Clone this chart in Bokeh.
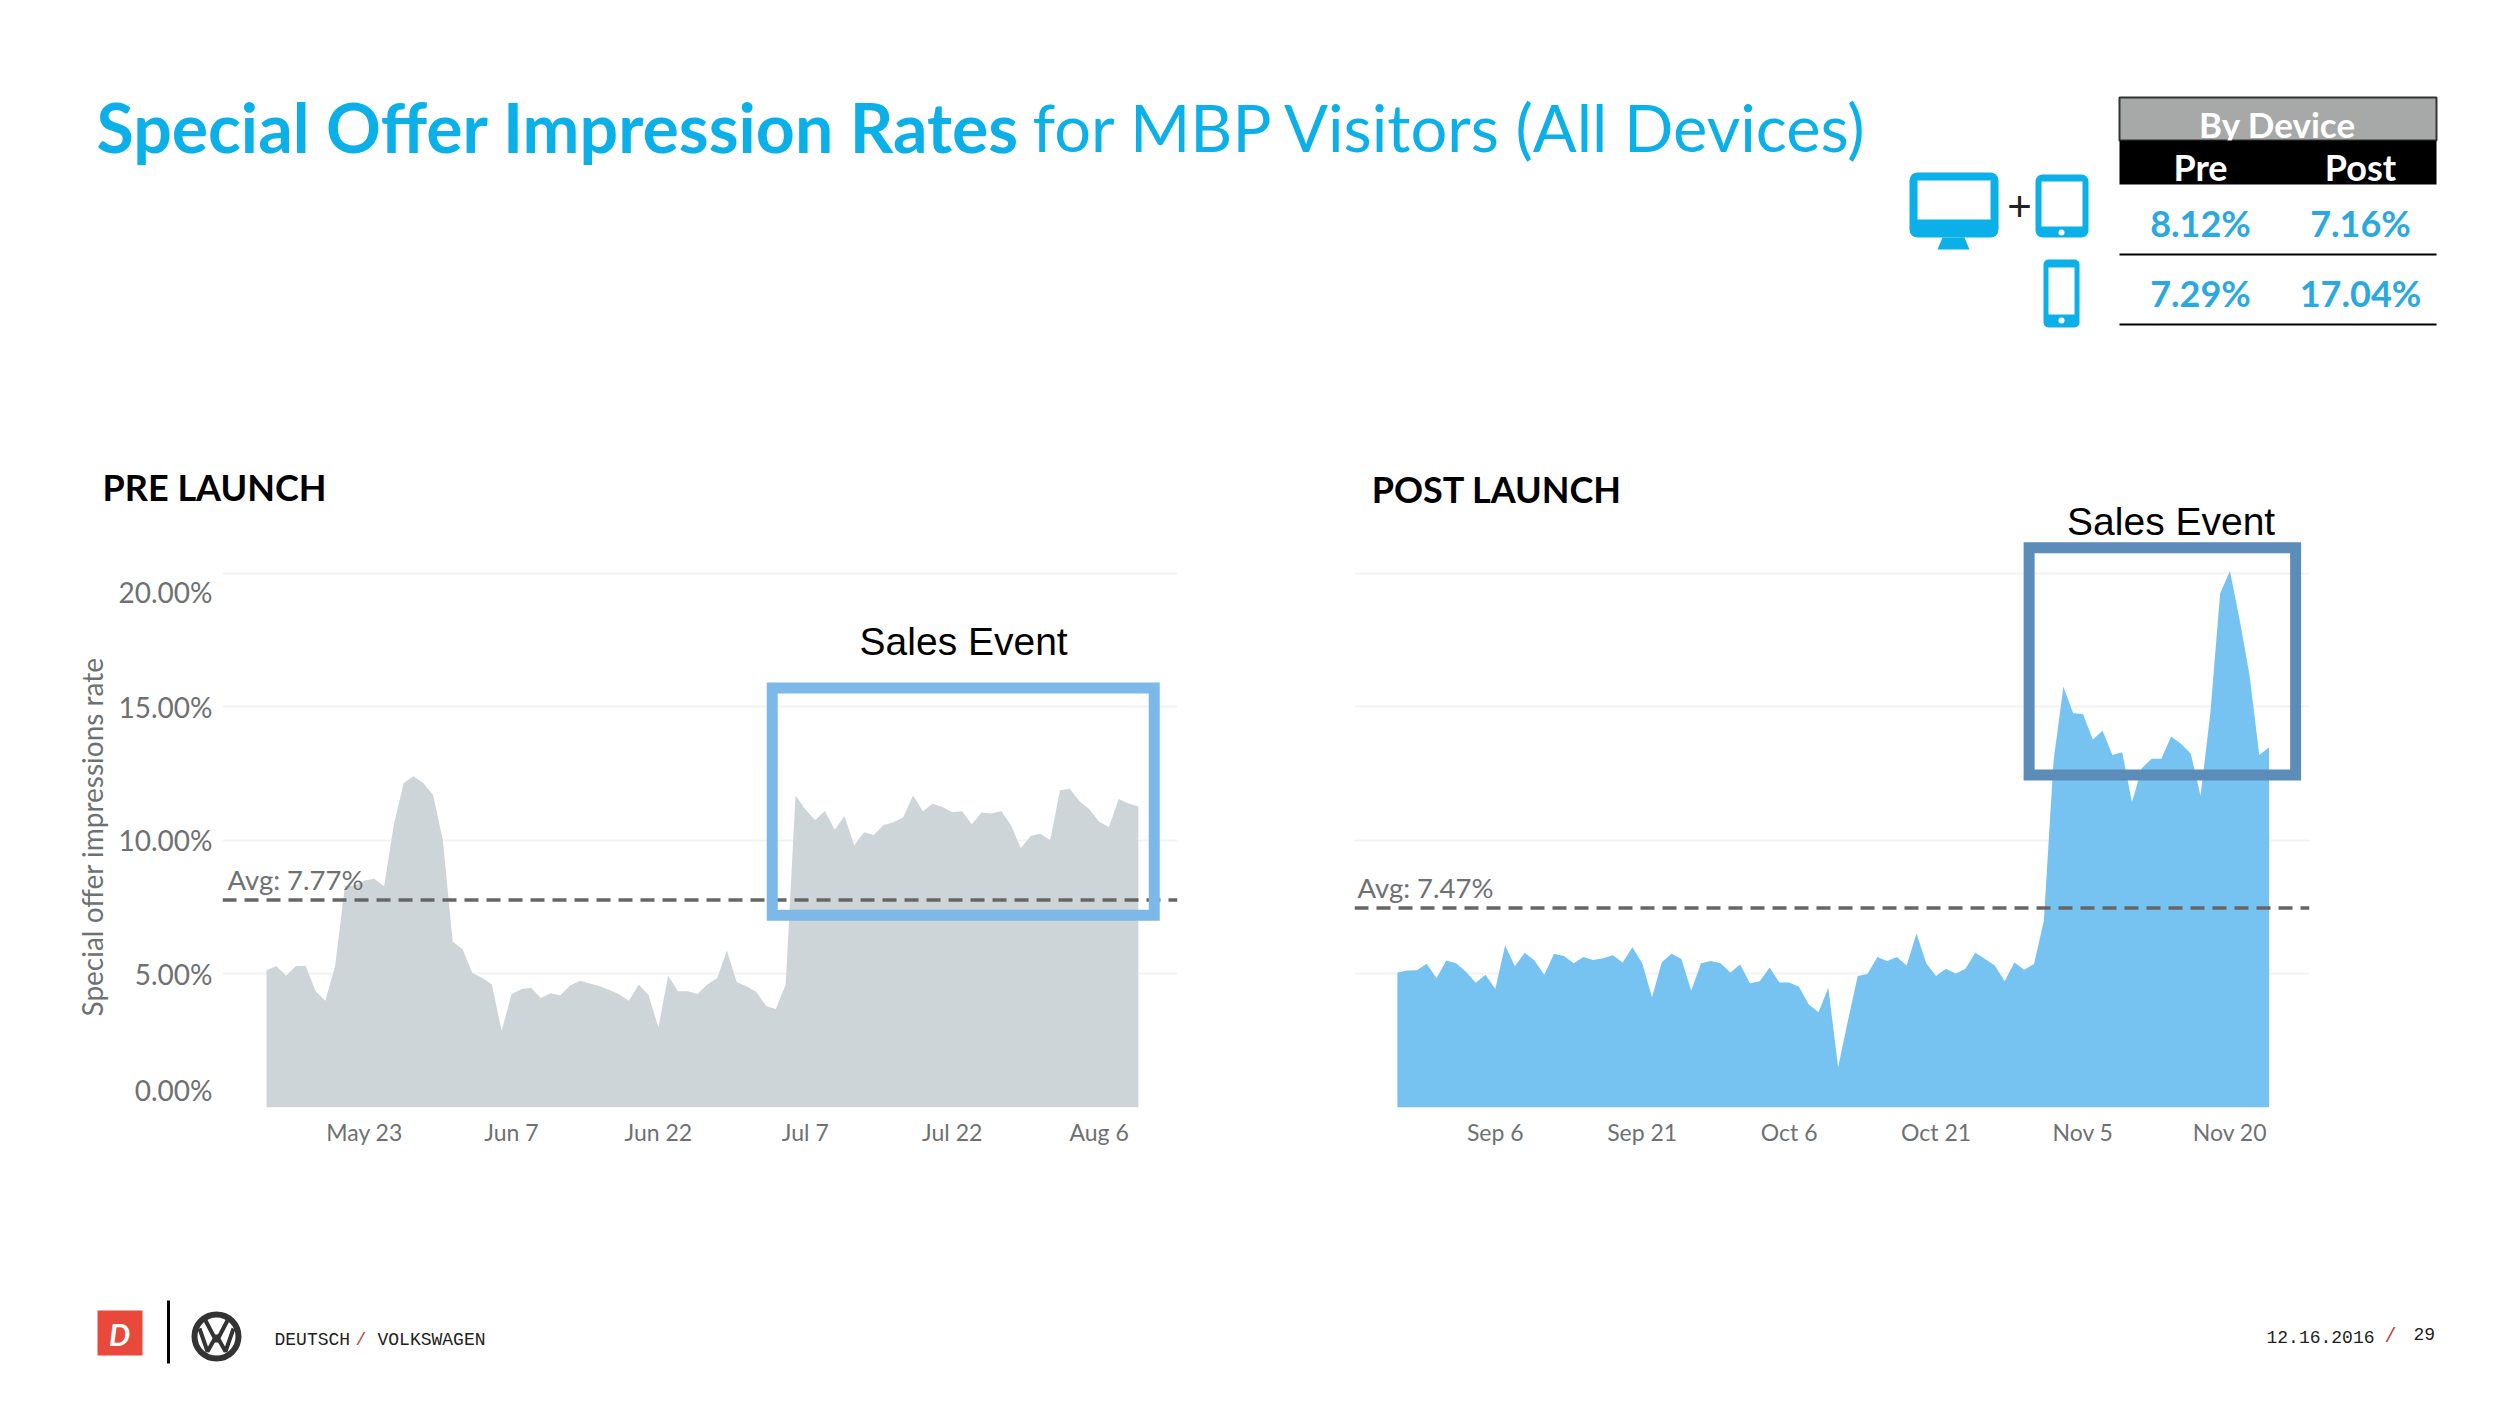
# Pre / post launch special offer impression rates, slide layout in Bokeh
import pandas as pd
from bokeh.core.properties import value
from bokeh.embed import file_html
from bokeh.layouts import column, row
from bokeh.models import BoxAnnotation, FixedTicker, Label, Range1d, Span, Title
from bokeh.plotting import figure
from bokeh.resources import INLINE

PRE_START = "2016-05-13"
PRE_RATES = [5.14, 5.3, 4.93, 5.3, 5.3, 4.35, 4.0, 5.3, 8.3, 8.3,
             8.5, 8.56, 8.28, 10.6, 12.15, 12.4, 12.15, 11.7, 10.0, 6.2,
             5.93, 5.03, 4.86, 4.6, 2.87, 4.24, 4.43, 4.48, 4.1, 4.28,
             4.2, 4.57, 4.74, 4.64, 4.54, 4.4, 4.24, 4.0, 4.6, 4.2,
             3.0, 4.93, 4.35, 4.35, 4.25, 4.6, 4.84, 5.88, 4.69, 4.54,
             4.32, 3.8, 3.69, 4.6, 11.68, 11.16, 10.75, 11.1, 10.4, 10.9,
             9.82, 10.3, 10.2, 10.57, 10.68, 10.86, 11.68, 11.09, 11.37, 11.25,
             11.05, 11.09, 10.6, 11.04, 11.0, 11.1, 10.56, 9.7, 10.16, 10.25,
             10.0, 11.87, 11.93, 11.46, 11.16, 10.7, 10.5, 11.55, 11.38, 11.28]
PRE_AVG = 7.77
PRE_TICK_DATES = ["2016-05-23", "2016-06-07", "2016-06-22", "2016-07-07", "2016-07-22", "2016-08-06"]
PRE_TICK_LABELS = ["May 23", "Jun 7", "Jun 22", "Jul 7", "Jul 22", "Aug 6"]

POST_START = "2016-08-27"
POST_RATES = [5.05, 5.13, 5.14, 5.38, 4.84, 5.5, 5.4, 5.08, 4.67, 4.97,
              4.44, 6.06, 5.29, 5.79, 5.5, 4.97, 5.76, 5.67, 5.4, 5.63,
              5.52, 5.59, 5.7, 5.43, 6.0, 5.4, 4.13, 5.44, 5.76, 5.56,
              4.37, 5.4, 5.48, 5.4, 5.05, 5.35, 4.65, 4.73, 5.24, 4.68,
              4.68, 4.52, 3.86, 3.57, 4.48, 1.51, 3.25, 4.92, 5.0, 5.63,
              5.48, 5.63, 5.32, 6.51, 5.4, 4.92, 5.19, 5.02, 5.19, 5.79,
              5.56, 5.32, 4.73, 5.43, 5.16, 5.37, 6.98, 13.0, 15.75, 14.76,
              14.73, 13.78, 14.1, 13.2, 13.3, 11.43, 12.7, 13.06, 13.06, 13.89,
              13.62, 13.25, 11.67, 14.76, 19.24, 20.08, 18.25, 16.19, 13.2, 13.49]
POST_AVG = 7.47
POST_TICK_DATES = ["2016-09-06", "2016-09-21", "2016-10-06", "2016-10-21", "2016-11-05", "2016-11-20"]
POST_TICK_LABELS = ["Sep 6", "Sep 21", "Oct 6", "Oct 21", "Nov 5", "Nov 20"]

Y_GRID = [0, 5, 10, 15, 20]
Y_TICK_LABELS = ["0.00%", "5.00%", "10.00%", "15.00%", "20.00%"]
# the original nudges its first and last y labels inwards, off their gridlines
Y_LABEL_AT = [0.66, 5, 10, 15, 19.3]

TABLE_COLUMNS = ["Pre", "Post"]
TABLE_ALL = ["8.12%", "7.16%"]
TABLE_MOBILE = ["7.29%", "17.04%"]

CYAN = "#0cb0e8"
TICK_GREY = "#6e7172"
FONT = "Lato"


def ms(d):
    return pd.Timestamp(d).timestamp() * 1000


def canvas(height, y_top, y_bottom):
    # plain drawing area whose coordinates are page pixels
    p = figure(width=2484, height=height, output_backend="svg", toolbar_location=None,
               x_range=Range1d(8, 2492), y_range=Range1d(y_bottom, y_top), min_border=0)
    p.axis.visible = False
    p.grid.visible = False
    p.outline_line_color = None
    return p


def put(p, x, y, s, size, color="black", align="left", style="normal", font=FONT):
    p.text([x], [y], text=[s], text_font=value(font), text_font_size=f"{size}px", text_color=color,
           text_align=align, text_baseline="middle", text_font_style=style)


def chart(start, rates, avg, tick_dates, tick_labels, color, x_from, x_to, width, left, right, y_top, top):
    p = figure(width=width, height=706, output_backend="svg", toolbar_location=None,
               x_axis_type="datetime", x_range=Range1d(ms(x_from), ms(x_to)), y_range=Range1d(0, y_top),
               min_border_left=left, min_border_right=right, min_border_top=top, min_border_bottom=51)
    p.outline_line_color = None
    p.xgrid.visible = False
    p.ygrid.ticker = FixedTicker(ticks=Y_GRID)
    p.ygrid.grid_line_color = "#f3f3f3"
    p.ygrid.grid_line_width = 2

    dates = pd.date_range(start, periods=len(rates), freq="D")
    p.varea(dates, y1=0, y2=rates, fill_color=color)

    p.xaxis.ticker = FixedTicker(ticks=[ms(d) for d in tick_dates])
    p.xaxis.major_label_overrides = {int(ms(d)): t for d, t in zip(tick_dates, tick_labels)}
    p.xaxis.axis_line_color = None
    p.xaxis.major_tick_line_color = None
    p.xaxis.minor_tick_line_color = None
    p.xaxis.major_label_standoff = 4
    p.xaxis.major_label_text_font = FONT
    p.xaxis.major_label_text_font_size = "23px"
    p.xaxis.major_label_text_color = TICK_GREY

    p.add_layout(Span(location=avg, dimension="width", line_color="#666666", line_width=3.5,
                      line_dash=[14, 8]))
    return p


def event_box(p, left, right, bottom, top, color, text_x, text_y):
    p.add_layout(BoxAnnotation(left=ms(left), right=ms(right), bottom=bottom, top=top, fill_alpha=0,
                               line_color=color, line_width=11, line_alpha=1, line_join="miter"))
    p.add_layout(Label(x=ms(text_x), y=text_y, text="Sales Event", text_font="Liberation Sans",
                       text_font_size="39px", text_color="black", text_align="center",
                       text_baseline="middle"))


def avg_label(p, text, x, avg):
    p.add_layout(Label(x=x, x_units="screen", y=avg + 0.15, text=text, text_font=FONT,
                       text_font_size="27.5px", text_color=TICK_GREY, text_baseline="bottom"))


# header: title, device icons, small table
head = canvas(452, 2, 454)
put(head, 104, 128, "Special Offer Impression Rates", 68, CYAN, style="bold")
put(head, 1040, 128, "for MBP Visitors (All Devices)", 65, CYAN)

head.quad(left=[1917], right=[2006], bottom=[239], top=[174], fill_color=CYAN, line_color=None,
          border_radius=8)
head.quad(left=[1925], right=[1998], bottom=[221], top=[182], fill_color="white", line_color=None)
head.patch([1950, 1972, 1977, 1945], [239, 239, 251, 251], fill_color=CYAN, line_color=None)
put(head, 2027, 208, "+", 42, "#222222", "center", font="Liberation Sans")
head.quad(left=[2043], right=[2096], bottom=[239], top=[176], fill_color=CYAN, line_color=None,
          border_radius=7)
head.quad(left=[2049], right=[2090], bottom=[228], top=[183], fill_color="white", line_color=None)
head.scatter([2069], [234], size=6, fill_color="white", line_color=None)
head.quad(left=[2051], right=[2087], bottom=[329], top=[261], fill_color=CYAN, line_color=None,
          border_radius=5)
head.quad(left=[2056], right=[2082], bottom=[316], top=[269], fill_color="white", line_color=None)
head.scatter([2069], [322], size=6, fill_color="white", line_color=None)

head.quad(left=[2127], right=[2444], bottom=[142], top=[99], fill_color="#a7a9a8",
          line_color="#333333", line_width=2)
put(head, 2285, 125, "By Device", 35, "white", "center", "bold")
head.quad(left=[2127], right=[2444], bottom=[186], top=[142], fill_color="black", line_color=None)
for cx, name, top_val, low_val in zip([2208, 2368], TABLE_COLUMNS, TABLE_ALL, TABLE_MOBILE):
    put(head, cx, 168, name, 36, "white", "center", "bold")
    put(head, cx, 224, top_val, 36, "#2aa9e0", "center", "bold")
    put(head, cx, 294, low_val, 36, "#2aa9e0", "center", "bold")
head.segment([2127, 2127], [256, 326], [2444, 2444], [256, 326], line_color="black", line_width=2)

# the two area charts
pre = chart(PRE_START, PRE_RATES, PRE_AVG, PRE_TICK_DATES, PRE_TICK_LABELS, "#ced5d8",
            "2016-05-08 12:00", "2016-08-14 00:00", 1332, 222, 155, 22.42, 56)
pre.yaxis.ticker = FixedTicker(ticks=Y_LABEL_AT)
pre.yaxis.major_label_overrides = dict(zip(Y_LABEL_AT, Y_TICK_LABELS))
pre.yaxis.axis_line_color = None
pre.yaxis.major_tick_line_color = None
pre.yaxis.minor_tick_line_color = None
pre.yaxis.major_label_standoff = 4
pre.yaxis.major_label_text_font = FONT
pre.yaxis.major_label_text_font_size = "28px"
pre.yaxis.major_label_text_color = TICK_GREY
pre.add_layout(Title(text="Special offer impressions rate", align="left", offset=91, standoff=13,
                     text_font=FONT, text_font_size="28px", text_font_style="normal",
                     text_color=TICK_GREY), "left")
pre.add_layout(Title(text="PRE LAUNCH", align="left", offset=-120, standoff=0, text_font=FONT,
                     text_font_size="36px", text_font_style="bold", text_color="black"), "above")
avg_label(pre, "Avg: 7.77%", 5, PRE_AVG)
event_box(pre, "2016-07-03 15:00", "2016-08-11 15:00", 7.2, 15.7, "#7db9e8", "2016-07-23 04:00", 17.45)

post = chart(POST_START, POST_RATES, POST_AVG, POST_TICK_DATES, POST_TICK_LABELS, "#76c3f2",
             "2016-08-22 15:00", "2016-11-28 03:00", 1152, 22, 175, 24.52, 0)
post.yaxis.visible = False
post.add_layout(Label(x=ms("2016-08-24 09:00"), y=23.16, text="POST LAUNCH", text_font=FONT,
                      text_font_size="36px", text_font_style="bold", text_color="black",
                      text_baseline="middle"))
avg_label(post, "Avg: 7.47%", 3, POST_AVG)
event_box(post, "2016-10-30 12:00", "2016-11-26 17:00", 12.45, 20.95, "#5b8db8", "2016-11-14 00:00", 21.95)

# footer: logos, agency line, date and page
foot = canvas(232, 1163, 1395)
foot.quad(left=[105], right=[150], bottom=[1360], top=[1315], fill_color="#e8493a", line_color=None)
put(foot, 127, 1338, "D", 30, "white", "center", "bold italic")
foot.segment([176], [1305], [176], [1368], line_color="black", line_width=3)
foot.scatter([224], [1341], size=44, fill_color="white", line_color="#333333", line_width=6)
foot.multi_line([[213, 224, 235], [207, 215, 224, 233, 241]],
                [[1325, 1346, 1325], [1333, 1356, 1340, 1356, 1333]],
                line_color="#333333", line_width=4)
put(foot, 282, 1344, "DEUTSCH", 18, "#222222", font="Liberation Mono")
put(foot, 363, 1344, "/", 18, "#c8443a", font="Liberation Mono")
put(foot, 385, 1344, "VOLKSWAGEN", 18, "#222222", font="Liberation Mono")
put(foot, 2274, 1341, "12.16.2016", 18, "#222222", font="Liberation Mono")
put(foot, 2398, 1341, "/", 20, "#c8443a", "center", font="Liberation Mono")
put(foot, 2421, 1338, "29", 18, "#222222", font="Liberation Mono")

# each chart wrapped on its own so the row does not line up their frames
page = column(head, row(column(pre), column(post), spacing=0), foot, spacing=0)
open("out.html", "w").write(file_html(page, INLINE))
